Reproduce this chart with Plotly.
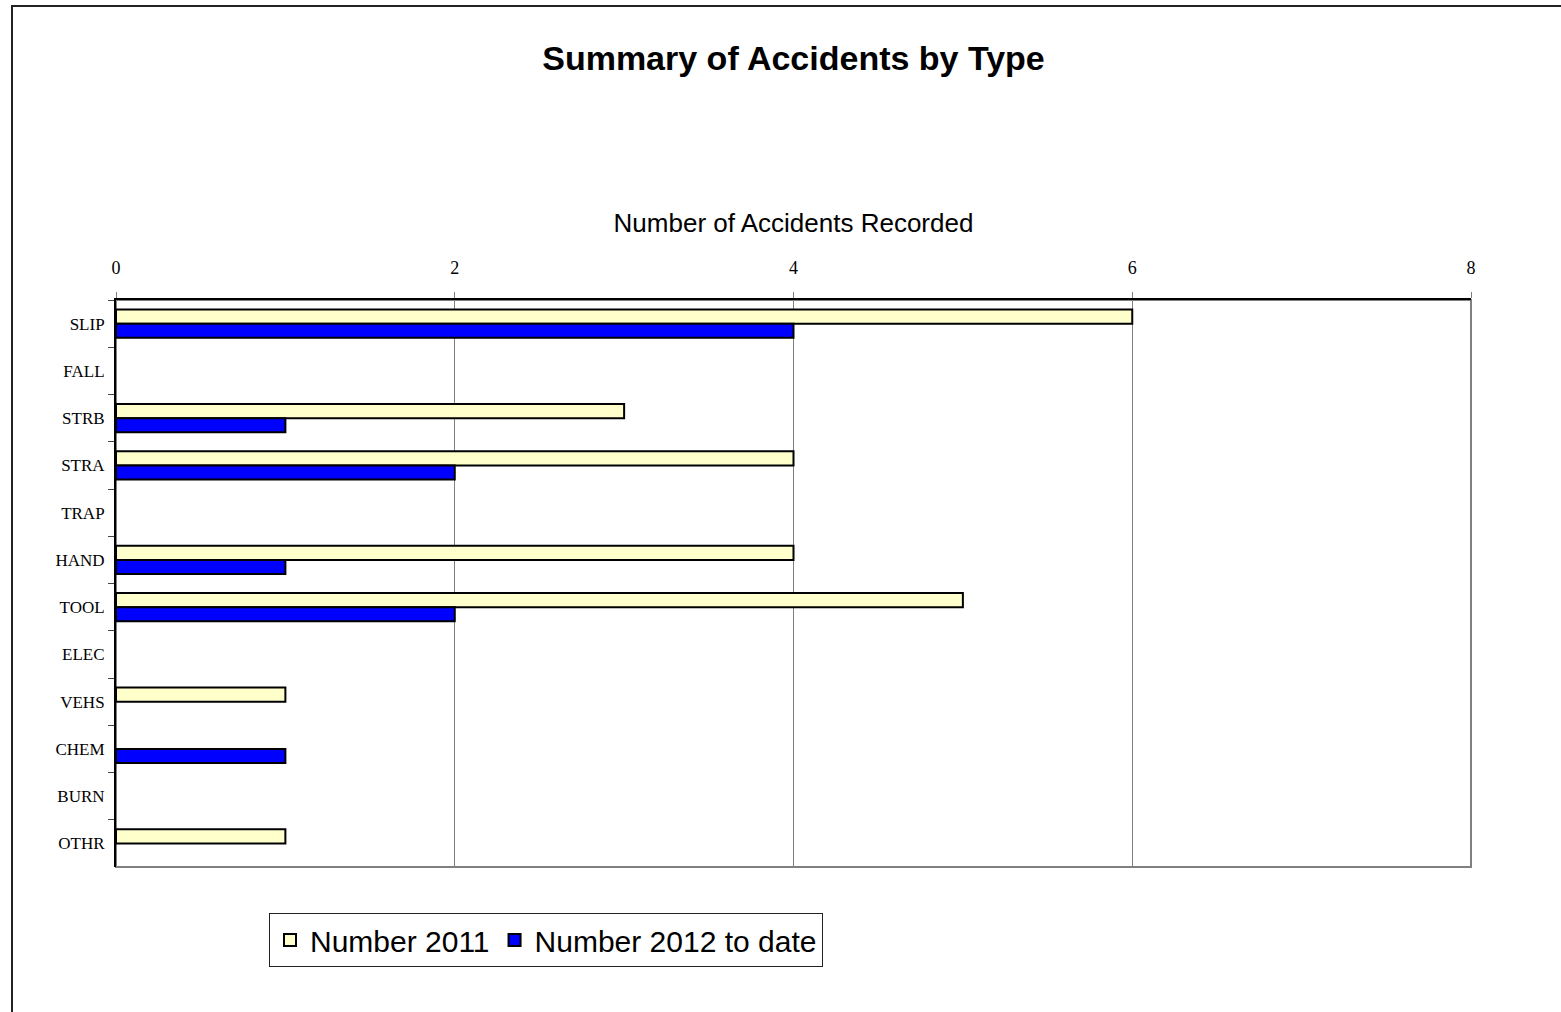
import plotly.graph_objects as go

categories = ["SLIP", "FALL", "STRB", "STRA", "TRAP", "HAND", "TOOL", "ELEC", "VEHS", "CHEM", "BURN", "OTHR"]
values_2011 = [6, 0, 3, 4, 0, 4, 5, 0, 1, 0, 0, 1]
values_2012 = [4, 0, 1, 2, 0, 1, 2, 0, 0, 1, 0, 0]
x_ticks = [0, 2, 4, 6, 8]

W, H = 1561, 1012
L, R, T, B = 116, 90, 300, 145
pw = W - L - R
ph = H - T - B


def nz(vals):
    # zero counts draw no bar (avoid a stray outline at x=0)
    return [v if v else None for v in vals]


fig = go.Figure()
fig.add_trace(go.Bar(
    y=categories, x=nz(values_2011), orientation="h", name="Number 2011",
    marker=dict(color="#FFFFCC", line=dict(color="black", width=2)),
))
fig.add_trace(go.Bar(
    y=categories, x=nz(values_2012), orientation="h", name="Number 2012 to date",
    marker=dict(color="#0000FF", line=dict(color="black", width=2)),
))


def px_x(p):
    return (p - L) / pw


def px_y(p):
    return (H - B - p) / ph


fig.update_layout(
    width=W, height=H,
    margin=dict(l=L, r=R, t=T, b=B, autoexpand=False),
    paper_bgcolor="white", plot_bgcolor="white",
    barmode="group", bargap=0.4, bargroupgap=0,
    title=dict(text="<b>Summary of Accidents by Type</b>", x=0.5, xref="paper",
               y=1 - 58 / H, yref="container", yanchor="middle", xanchor="center",
               font=dict(family="Liberation Sans, Arial", size=34, color="black")),
    xaxis=dict(
        side="top", range=[0, 8], tickvals=x_ticks, ticktext=[str(v) for v in x_ticks],
        showgrid=True, gridcolor="#808080", gridwidth=1,
        showline=True, linecolor="black", linewidth=2, mirror=False,
        ticks="outside", ticklen=6, tickcolor="#808080", ticklabelstandoff=11,
        tickfont=dict(family="Liberation Serif, Times New Roman", size=18, color="black"),
        zeroline=False,
        title=dict(text="Number of Accidents Recorded", standoff=18,
                   font=dict(family="Liberation Sans, Arial", size=26, color="black")),
    ),
    yaxis=dict(
        type="category", autorange="reversed", categoryorder="array", categoryarray=categories,
        showline=True, linecolor="black", linewidth=2,
        ticks="outside", ticklen=6, tickcolor="#444", tickson="boundaries",
        ticklabelstandoff=6,
        tickfont=dict(family="Liberation Serif, Times New Roman", size=17, color="black"),
        showgrid=False, zeroline=False,
    ),
    legend=dict(
        orientation="h", x=px_x(269), y=px_y(913), xanchor="left", yanchor="top",
        bgcolor="white", bordercolor="#222", borderwidth=1,
        font=dict(family="Liberation Sans, Arial", size=30, color="black"),
        itemwidth=30, traceorder="normal",
    ),
    shapes=[
        dict(type="rect", xref="paper", yref="paper", x0=0, x1=1, y0=0, y1=1,
             line=dict(color="#808080", width=2), layer="below"),
        dict(type="rect", xref="paper", yref="paper", x0=px_x(12), x1=px_x(1700),
             y0=px_y(1100), y1=px_y(6), line=dict(color="#222", width=2), layer="below"),
    ],
)

fig.write_html("out.html", config={"displayModeBar": False},
               post_script="document.body.style.margin='0';")
